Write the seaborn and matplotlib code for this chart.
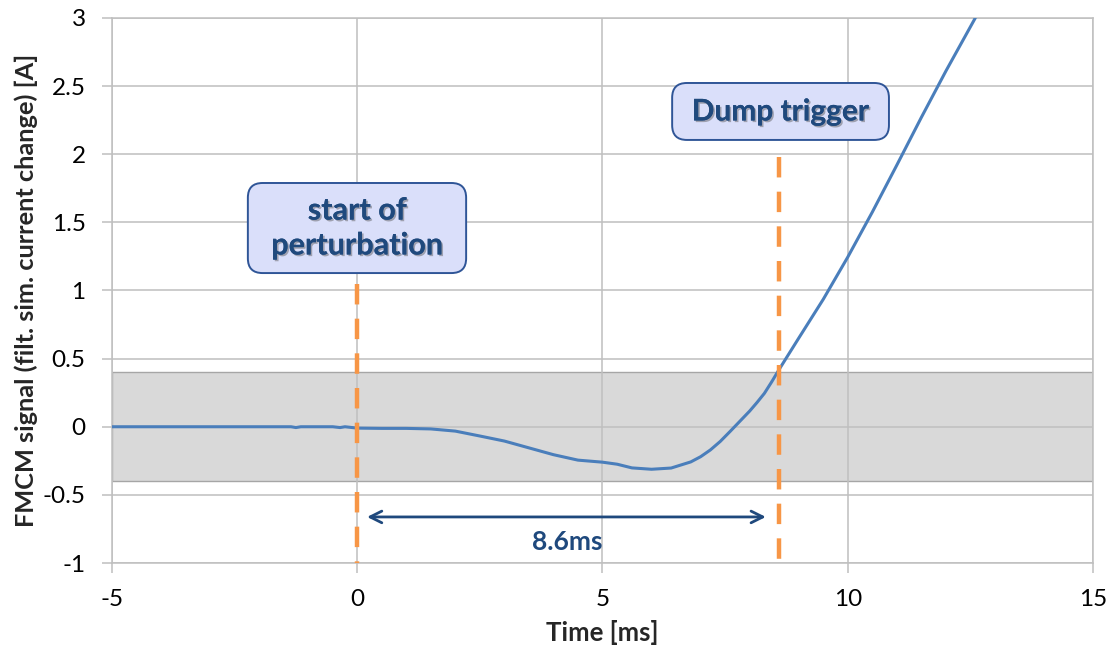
import numpy as np
import pandas as pd
import matplotlib
matplotlib.use("Agg")
import matplotlib.pyplot as plt
import matplotlib.patheffects as pe
from matplotlib.patches import FancyBboxPatch
import seaborn as sns

# FMCM signal (filtered simulated current change) versus time
time_ms = [-5.0, -1.35, -1.25, -1.15, -0.5, -0.35, -0.25, -0.1, 0.0, 0.5, 1.0,
           1.5, 2.0, 2.5, 3.0, 3.5, 4.0, 4.5, 5.0, 5.3, 5.6, 6.0, 6.4, 6.8,
           7.0, 7.2, 7.4, 7.6, 7.8, 8.0, 8.15, 8.3, 8.45, 8.6,
           9.0, 9.5, 10.0, 10.5, 11.0, 11.5, 12.0, 12.6]
signal_a = [0.0, 0.0, -0.006, 0.0, 0.0, -0.006, 0.0, -0.006, -0.01, -0.012, -0.012,
            -0.016, -0.032, -0.068, -0.105, -0.155, -0.205, -0.245, -0.26, -0.275, -0.302, -0.312, -0.303, -0.258,
            -0.22, -0.17, -0.108, -0.035, 0.04, 0.115, 0.178, 0.245, 0.33, 0.42,
            0.65, 0.935, 1.245, 1.575, 1.92, 2.27, 2.61, 3.0]

threshold_a = 0.4          # tolerance band +/- threshold
perturbation_ms = 0.0      # start of perturbation
dump_ms = 8.6              # dump trigger
delay_label = "8.6ms"

x_ticks = [-5, 0, 5, 10, 15]
y_ticks = [-1, -0.5, 0, 0.5, 1, 1.5, 2, 2.5, 3]
x_label = "Time [ms]"
y_label = "FMCM signal (filt. sim. current change) [A]"

df = pd.DataFrame({"time": time_ms, "signal": signal_a})

sns.set_theme(style="white")
plt.rcParams["font.family"] = ["Lato", "DejaVu Sans"]

fig = plt.figure(figsize=(11.11, 6.52), dpi=100)
ax = fig.add_axes([0.1008, 0.1365, 0.883, 0.8359])

grid_c = "#bfbfbf"
navy = "#1f497d"
orange = "#f79646"

# tolerance band
ax.axhspan(-threshold_a, threshold_a, facecolor="#d9d9d9", edgecolor="#a6a6a6",
           linewidth=1.0, zorder=0.3)

ax.set_axisbelow(True)
ax.grid(True, color=grid_c, linewidth=1.1, zorder=0.5)

sns.lineplot(data=df, x="time", y="signal", ax=ax, color="#4a7ebb",
             linewidth=2.2, zorder=3)

ax.set_xlim(-5, 15)
ax.set_ylim(-1, 3)
ax.set_xticks(x_ticks)
ax.set_yticks(y_ticks)
ax.set_xticklabels([f"{v:g}" for v in x_ticks])
ax.set_yticklabels([f"{v:g}" for v in y_ticks])
ax.tick_params(axis="both", which="major", labelsize=17.5, colors="black",
               length=7, width=1.1, direction="out")
ax.tick_params(axis="x", color=grid_c, pad=12)
ax.tick_params(axis="y", color=grid_c, pad=12)
ax.xaxis.set_ticks_position("bottom")
ax.yaxis.set_ticks_position("left")
for s in ax.spines.values():
    s.set_color(grid_c)
    s.set_linewidth(1.1)

ax.set_xlabel(x_label, fontsize=18.5, fontweight="bold", labelpad=7)
ax.set_ylabel(y_label, fontsize=18.3, fontweight="bold", labelpad=3)

# event markers (drawn top-down so each starts with a full dash)
dash = (0, (4.6, 3.2))
ax.plot([perturbation_ms, perturbation_ms], [1.05, -1], color=orange,
        linewidth=3.2, linestyle=dash, zorder=4, solid_capstyle="butt")
ax.plot([dump_ms, dump_ms], [1.98, -1], color=orange,
        linewidth=3.2, linestyle=dash, zorder=4, solid_capstyle="butt")

# delay arrow
ax.annotate("", xy=(perturbation_ms + 0.2, -0.662), xytext=(dump_ms - 0.27, -0.662),
            arrowprops=dict(arrowstyle="<->,head_length=0.7,head_width=0.35",
                            color=navy, linewidth=2.0, shrinkA=0, shrinkB=0),
            zorder=5)
ax.text(4.28, -0.846, delay_label, ha="center", va="center", fontsize=19,
        fontweight="bold", color=navy, zorder=5)

# callout boxes
aspect = 49.05 / 136.25
shadow = [pe.withSimplePatchShadow(offset=(1.2, -1.2), shadow_rgbFace="#555555",
                                   alpha=0.45), pe.Normal()]


def callout(x0, x1, y0, y1, label, size):
    box = FancyBboxPatch((x0, y0), x1 - x0, y1 - y0,
                         boxstyle="round,pad=0,rounding_size=0.3",
                         mutation_aspect=aspect, facecolor="#dadffa",
                         edgecolor="#2f5597", linewidth=1.4, zorder=6)
    ax.add_patch(box)
    ax.text((x0 + x1) / 2, (y0 + y1) / 2, label, ha="center", va="center",
            fontsize=size, fontweight="bold", color=navy, zorder=7,
            linespacing=1.3, path_effects=shadow)


callout(-2.23, 2.22, 1.128, 1.789, "start of\nperturbation", 22)
callout(6.42, 10.84, 2.105, 2.523, "Dump trigger", 21.5)

fig.savefig("out.png", dpi=100)
